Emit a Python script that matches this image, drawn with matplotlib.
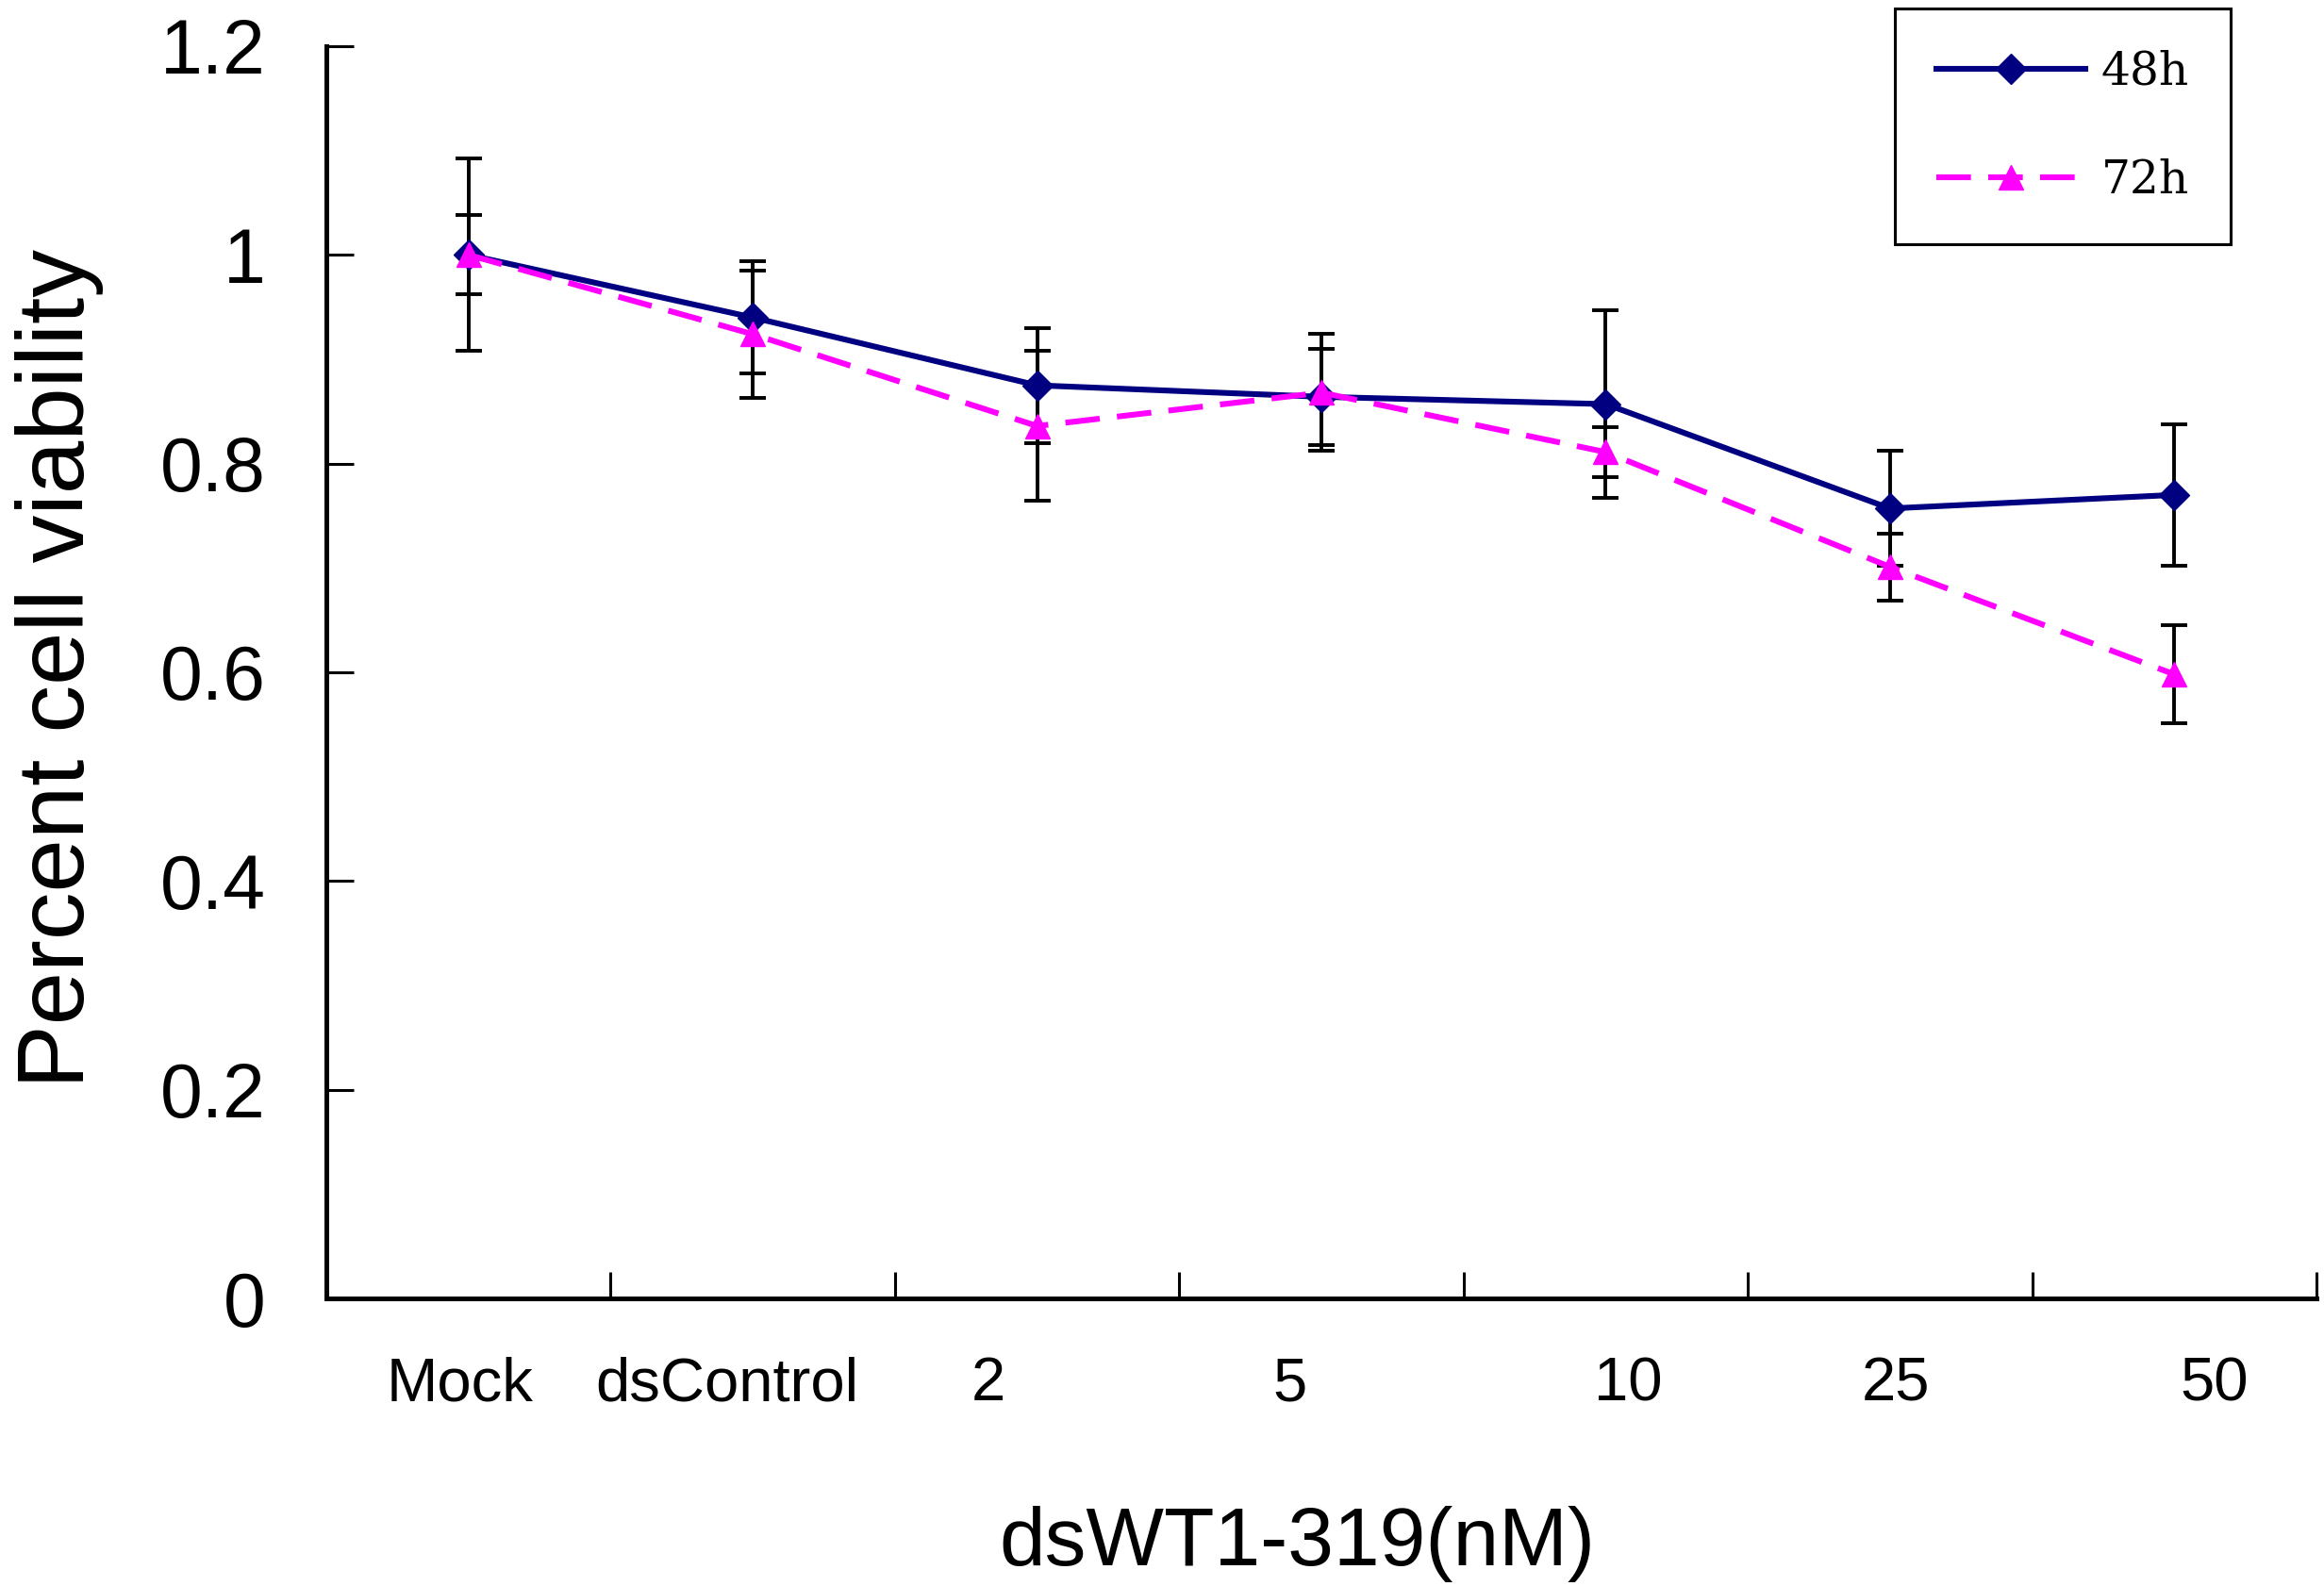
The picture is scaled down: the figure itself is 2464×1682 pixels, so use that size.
import numpy as np
import matplotlib
matplotlib.use('Agg')
import matplotlib.pyplot as plt

plt.rcParams['font.family'] = ['Liberation Sans', 'DejaVu Sans']

# dose groups and mean viability (fraction of mock) with SD
groups = ['Mock', 'dsControl', '2', '5', '10', '25', '50']
h48 = [1.0, 0.94, 0.875, 0.864, 0.857, 0.757, 0.770]
h48_sd = [0.092, 0.054, 0.055, 0.046, 0.090, 0.055, 0.068]
h72 = [1.0, 0.924, 0.836, 0.868, 0.811, 0.701, 0.598]
h72_sd = [0.038, 0.061, 0.072, 0.056, 0.024, 0.032, 0.047]

x = np.arange(len(groups)) + 0.5
label_x = [0.47, 1.41, 2.33, 3.39, 4.58, 5.52, 6.64]

fig = plt.figure(figsize=(24.64, 16.82), dpi=100)
ax = fig.add_axes([0.1404, 0.1813, 0.8564, 0.7896])

ax.errorbar(x, h48, yerr=h48_sd, fmt='none', ecolor='black', elinewidth=2.8,
            capsize=10, capthick=2.8, zorder=2)
ax.errorbar(x, h72, yerr=h72_sd, fmt='none', ecolor='black', elinewidth=2.8,
            capsize=10, capthick=2.8, zorder=2)

ax.plot(x, h48, color='#000080', lw=4.4, marker='D', markersize=16,
        label='48h', zorder=3)
ax.plot(x, h72, color='#ff00ff', lw=4.4, dashes=(6, 3), marker='^',
        markersize=19, label='72h', zorder=3)

ax.set_xlim(0, 7)
ax.set_ylim(0, 1.2)

for s in ['top', 'right']:
    ax.spines[s].set_visible(False)
for s in ['left', 'bottom']:
    ax.spines[s].set_linewidth(3.6)

ax.set_yticks([0, 0.2, 0.4, 0.6, 0.8, 1.0, 1.2])
ax.set_yticklabels(['0', '0.2', '0.4', '0.6', '0.8', '1', '1.2'])
ax.tick_params(axis='y', direction='in', length=21, width=2.2, pad=46,
               labelsize=58)

ax.set_xticks(range(1, 8))
ax.set_xticklabels([])
ax.tick_params(axis='x', which='major', direction='in', length=20, width=2.2)
ax.set_xticks(label_x, minor=True)
ax.set_xticklabels(groups, minor=True)
ax.tick_params(axis='x', which='minor', length=0, pad=44, labelsize=47)

fig.text(0.0256, 0.5785, 'Percent cell viability', rotation=90,
         ha='center', va='center', fontsize=73)
fig.text(0.558, 0.0265, 'dsWT1-319(nM)', ha='center', va='center',
         fontsize=63)

leg = ax.legend(loc='upper left', bbox_to_anchor=(2009 / 2464, 1 - 9 / 1682),
                bbox_transform=fig.transFigure, borderaxespad=0,
                fancybox=False, framealpha=1, edgecolor='black',
                prop={'family': 'DejaVu Serif', 'size': 35},
                handlelength=3.25, handletextpad=0.35, borderpad=0.9,
                labelspacing=1.4, numpoints=1)
leg.get_frame().set_linewidth(2.2)

fig.savefig('out.png', dpi=100, facecolor='white')
